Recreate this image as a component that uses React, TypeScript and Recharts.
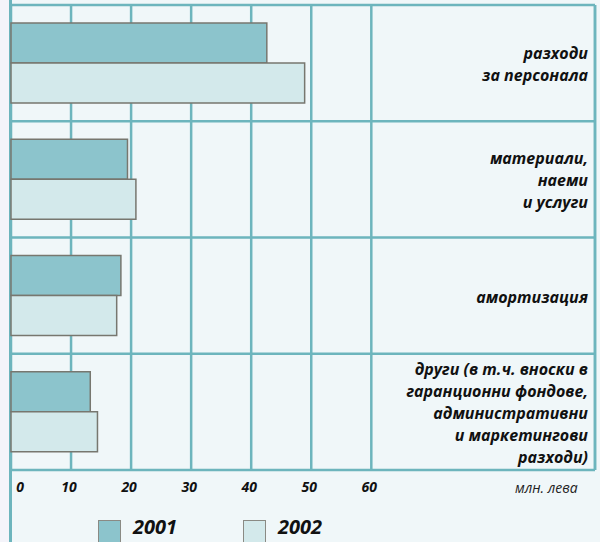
import { BarChart, Bar, XAxis, YAxis, CartesianGrid, ReferenceLine } from 'recharts'

const categories = [
  'разходи\nза персонала',
  'материали,\nнаеми\nи услуги',
  'амортизация',
  'други (в т.ч. вноски в\nгаранционни фондове,\nадминистративни\nи маркетингови\nразходи)',
]
const values2001 = [42.6, 19.4, 18.3, 13.2]
const values2002 = [48.9, 20.8, 17.6, 14.4]
const xTicks = [0, 10, 20, 30, 40, 50, 60]
const unitLabel = 'млн. лева'
const seriesNames = ['2001', '2002']
const seriesColors = ['#8cc4cc', '#d3e9eb']

const X_MAX = 97.25
const TEAL = '#6db5bd'
const FONT = '"Open Sans", "Noto Sans", sans-serif'

const data = categories.map((name, i) => ({
  name,
  y2001: values2001[i],
  y2002: values2002[i],
}))

function XTick({ x, y, payload }: any) {
  const dx = payload.value === 0 ? 9 : -2
  return (
    <text x={x + dx} y={y + 14} textAnchor="middle" fontFamily={FONT} fontStyle="italic"
      fontWeight={700} fontSize={14} fill="#111">
      {payload.value}
    </text>
  )
}

function CategoryLabel({ y, payload }: any) {
  const lines = String(payload.value).split('\n')
  const lh = 22
  const startY = y - ((lines.length - 1) * lh) / 2 + 7
  return (
    <text textAnchor="end" fontFamily={FONT} fontStyle="italic" fontWeight={700} fontSize={16} fill="#111">
      {lines.map((l, i) => (
        <tspan key={i} x={588} y={startY + i * lh}>{l}</tspan>
      ))}
    </text>
  )
}

const legendLeft = [98, 243]

export default function App() {
  return (
    <div style={{ position: 'absolute', left: 0, top: 0, width: 600, height: 542, background: '#f0f7f9', overflow: 'hidden' }}>
      <div style={{ position: 'absolute', left: 0, top: 0, width: 9, height: 542, background: '#f4f4fa' }} />
      <div style={{ position: 'absolute', left: 9, top: 0, width: 3, height: 542, background: TEAL }} />
      <BarChart
        width={600}
        height={542}
        data={data}
        layout="vertical"
        margin={{ top: 5, right: 5, bottom: 42, left: 10 }}
        barCategoryGap={17}
        barGap={0}
      >
        <CartesianGrid
          stroke={TEAL}
          strokeWidth={2.5}
          horizontalCoordinatesGenerator={({ offset }: any) =>
            [0, 1, 2, 3, 4].map(i => offset.top + (i * offset.height) / 4)}
        />
        <XAxis
          type="number"
          domain={[0, X_MAX]}
          ticks={xTicks}
          height={30}
          axisLine={false}
          tickLine={false}
          tick={<XTick />}
        />
        <YAxis type="category" dataKey="name" width={1} axisLine={false} tickLine={false} tick={<CategoryLabel />} />
        <ReferenceLine x={X_MAX} stroke={TEAL} strokeWidth={2.5} />
        <Bar dataKey="y2001" fill={seriesColors[0]} stroke="#77776f" strokeWidth={1.5} barSize={40} isAnimationActive={false} />
        <Bar dataKey="y2002" fill={seriesColors[1]} stroke="#77776f" strokeWidth={1.5} barSize={40} isAnimationActive={false} />
      </BarChart>
      <div style={{
        position: 'absolute', left: 515, top: 478, fontFamily: FONT, fontStyle: 'italic',
        fontSize: 14, color: '#222',
      }}>{unitLabel}</div>
      {seriesNames.map((name, i) => (
        <div key={name}>
          <div style={{
            position: 'absolute', left: legendLeft[i], top: 520, width: 23, height: 23,
            background: seriesColors[i], border: '1px solid #8a8a84', boxSizing: 'border-box',
          }} />
          <div style={{
            position: 'absolute', left: legendLeft[i] + 35, top: 513, fontFamily: FONT,
            fontStyle: 'italic', fontWeight: 700, fontSize: 20, color: '#111',
          }}>{name}</div>
        </div>
      ))}
    </div>
  )
}
